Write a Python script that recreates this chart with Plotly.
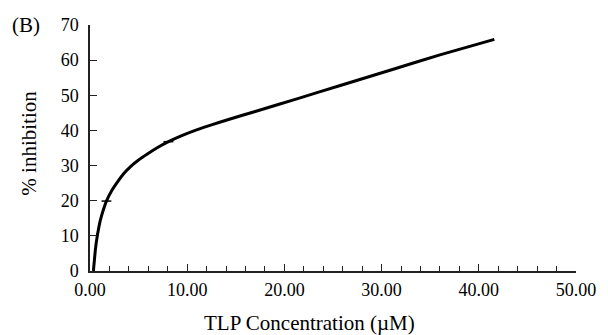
import plotly.graph_objects as go

# Data (TLP concentration in µM vs % inhibition)
conc = [0.35, 0.45, 0.55, 0.65, 0.78, 0.9, 1.02, 1.2, 1.36, 1.69, 2.2, 2.87, 3.5,
        4.2, 5.0, 5.9, 7.0, 8.07, 9.5, 10.9, 12.5, 14.0, 17.0, 21.2, 26.0, 31.2, 36.0, 41.6]
inhib = [0.0, 3.0, 6.0, 8.2, 10.5, 12.3, 13.9, 15.8, 17.3, 19.9, 22.7, 25.5, 27.8,
         29.8, 31.6, 33.3, 35.2, 36.8, 38.6, 40.1, 41.6, 42.9, 45.4, 48.9, 53.0, 57.4, 61.5, 65.9]
mark_conc = [1.69, 8.07]
mark_inhib = [19.9, 36.8]

x_ticks = [0, 10, 20, 30, 40, 50]
x_labels = ["0.00", "10.00", "20.00", "30.00", "40.00", "50.00"]
y_ticks = [0, 10, 20, 30, 40, 50, 60, 70]

FONT = "Liberation Serif, Times New Roman, serif"

W, H = 608, 335
L, R, T, B = 89.5, 21, 24.6, 64
PW, PH = W - L - R, H - T - B


def px_to_paper(px, py):
    return (px - L) / PW, (H - B - py) / PH


fig = go.Figure()
fig.add_trace(go.Scatter(x=conc, y=inhib, mode="lines",
                         line=dict(color="black", width=3, shape="spline", smoothing=0.4),
                         hoverinfo="skip", showlegend=False))
fig.add_trace(go.Scatter(x=mark_conc, y=mark_inhib, mode="markers",
                         marker=dict(symbol="line-ew", size=7, line=dict(color="black", width=1.5)),
                         hoverinfo="skip", showlegend=False))

anns = []
for text, (px, py), ang in [("TLP Concentration (\u00b5M)", (314, 323), 0),
                            ("% inhibition", (27, 142.5), -90),
                            ("(B)", (24, 25), 0)]:
    ax, ay = px_to_paper(px, py)
    anns.append(dict(text=text, x=ax, y=ay, xref="paper", yref="paper",
                     xanchor="center", yanchor="middle", textangle=ang,
                     showarrow=False, font=dict(family=FONT, size=21, color="black")))

fig.update_layout(
    width=W, height=H,
    margin=dict(l=L, r=R, t=T, b=B),
    paper_bgcolor="white", plot_bgcolor="white",
    font=dict(family=FONT, size=18, color="black"),
    showlegend=False,
    xaxis=dict(range=[0, 50], tickvals=x_ticks, ticktext=x_labels,
               showgrid=False, zeroline=False, showline=True,
               linecolor="#222", linewidth=1.5,
               ticks="inside", ticklen=7, tickwidth=1.3, tickcolor="#222",
               minor=dict(dtick=2, ticks="inside", ticklen=5, tickwidth=1.2, tickcolor="#222"),
               tickfont=dict(family=FONT, size=18),
               ticklabelstandoff=2),
    yaxis=dict(range=[0, 70], tickvals=y_ticks,
               showgrid=False, zeroline=False, showline=True,
               linecolor="#222", linewidth=1.5,
               ticks="inside", ticklen=7, tickwidth=1.3, tickcolor="#222",
               tickfont=dict(family=FONT, size=18),
               ticklabelstandoff=6),
    annotations=anns,
)

fig.write_html("out.html")
